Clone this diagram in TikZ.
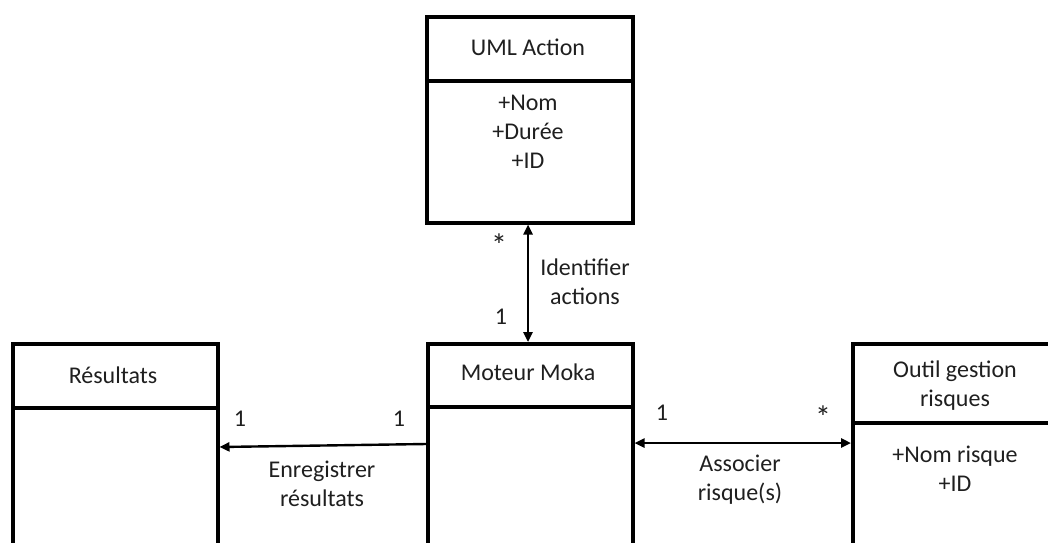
\documentclass[tikz,border=0pt]{standalone}
\usepackage{fontspec}
\setmainfont{Carlito}
\usetikzlibrary{arrows.meta}
\begin{document}
\begin{tikzpicture}[x=1pt,y=-1pt,
  classbox/.style={draw,line width=3.5pt,rectangle,inner sep=0pt,anchor=north west},
  divider/.style={line width=3.5pt},
  lbl/.style={font=\fontsize{24}{29}\selectfont,align=center,inner sep=0pt,text=black!88},
  star/.style={font=\fontsize{32}{32}\selectfont,inner sep=0pt,text=black!88},
  assoc/.style={line width=2.4pt},
  tip/.style={-{Triangle[length=10pt,width=9pt]}},
  dtip/.style={{Triangle[length=10pt,width=9pt]}-{Triangle[length=10pt,width=9pt]}}]
\useasboundingbox (0,0) rectangle (1048,542);
\clip (0,0) rectangle (1048,542);
% boxes
\node[classbox,minimum width=206pt,minimum height=206pt] (uml) at (425,15) {};
\node[classbox,minimum width=205pt,minimum height=240pt] (res) at (11,342) {};
\node[classbox,minimum width=205pt,minimum height=240pt] (mot) at (426,342) {};
\node[classbox,minimum width=230pt,minimum height=240pt] (out) at (851,342) {};
% dividers
\draw[divider] (uml.west |- 0,81) -- (uml.east |- 0,81);
\draw[divider] (res.west |- 0,408) -- (res.east |- 0,408);
\draw[divider] (mot.west |- 0,407) -- (mot.east |- 0,407);
\draw[divider] (out.west |- 0,423) -- (out.east |- 0,423);
% class texts
\node[lbl] (umlT) at (528,47) {UML Action};
\node[lbl] (umlA) at (528,132) {+Nom\\+Durée\\+ID};
\node[lbl] (resT) at (113,375) {Résultats};
\node[lbl] (motT) at (528,372) {Moteur Moka};
\node[lbl] (outT) at (955,386) {Outil gestion\\risques};
\node[lbl] (outA) at (955,469) {+Nom risque\\+ID};
% connectors
\draw[assoc,dtip] (uml.south -| 528,0) -- (mot.north -| 528,0);
\draw[assoc,tip] (mot.west |- 0,444) -- (res.east |- 0,447);
\draw[assoc,dtip] (mot.east |- 0,443) -- (out.west |- 0,443);
% multiplicities and labels
\node[star] (m1) at (499,245) {*};
\node[lbl] (m2) at (501,317) {1};
\node[lbl] (l1) at (585,282) {Identifier\\actions};
\node[lbl] (m3) at (240,419) {1};
\node[lbl] (m4) at (399,419) {1};
\node[lbl] (l2) at (322,484) {Enregistrer\\résultats};
\node[lbl] (m5) at (662,413) {1};
\node[star] (m6) at (823,417) {*};
\node[lbl] (l3) at (740,480) {Associer\\risque(s)};
\end{tikzpicture}
\end{document}
